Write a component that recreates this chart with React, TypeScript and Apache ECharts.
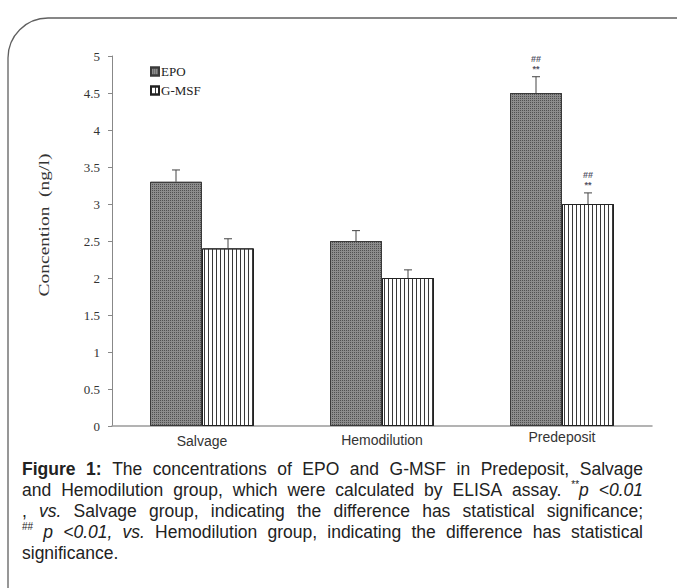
import React, { useEffect, useRef } from 'react';
import * as echarts from 'echarts';

// ---------- data ----------
const categories = ['Salvage', 'Hemodilution', 'Predeposit'];
const epoValues = [3.3, 2.5, 4.5];
const epoErrors = [0.16, 0.14, 0.22];
const gmsfValues = [2.4, 2.0, 3.0];
const gmsfErrors = [0.13, 0.11, 0.15];
const epoMarks = [[], [], ['##', '**']];
const gmsfMarks = [[], [], ['##', '**']];
const yMin = 0;
const yMax = 5;
const yStep = 0.5;
const yAxisTitle = 'Concention  (ng/l)';

type Seg = [string, 'n' | 'b' | 'i' | 's'];
const captionLines: Seg[][] = [
  [['Figure 1:', 'b'], [' The concentrations of EPO and G-MSF in Predeposit, Salvage', 'n']],
  [['and Hemodilution group, which were calculated by ELISA assay. ', 'n'], ['**', 's'], ['p <0.01', 'i']],
  [[', ', 'n'], ['vs.', 'i'], [' Salvage group, indicating the difference has statistical significance;', 'n']],
  [['##', 's'], [' ', 'n'], ['p <0.01, vs.', 'i'], [' Hemodilution group, indicating the difference has statistical', 'n']],
  [['significance.', 'n']],
];

// ---------- style ----------
const BAR_W = 52;
const LABEL_PAD = [4, 3, 0];
const FS = 17.5;
const SUP_FS = 10;
const LINE_H = 21;
const CAP_LEFT = 22;
const CAP_RIGHT = 643;
const CAP_TOP = 469;
const SANS = '"Liberation Sans", Arial, sans-serif';
const SERIF = '"Liberation Serif", "Times New Roman", serif';

function fontOf(s: string) {
  if (s === 'b') return `bold ${FS}px ${SANS}`;
  if (s === 'i') return `italic ${FS}px ${SANS}`;
  if (s === 's') return `${SUP_FS}px ${SANS}`;
  return `${FS}px ${SANS}`;
}

function toWords(line: Seg[]) {
  const words: Seg[][] = [];
  let cur: Seg[] = [];
  for (const [t, s] of line) {
    const parts = t.split(' ');
    parts.forEach((p, k) => {
      if (k > 0) {
        if (cur.length) words.push(cur);
        cur = [];
      }
      if (p) cur.push([p, s]);
    });
  }
  if (cur.length) words.push(cur);
  return words;
}

function buildCaption() {
  const ctx = document.createElement('canvas').getContext('2d') as CanvasRenderingContext2D;
  const measure = (t: string, s: string) => {
    ctx.font = fontOf(s);
    return ctx.measureText(t).width;
  };
  const elems: any[] = [];
  captionLines.forEach((line, li) => {
    const words = toWords(line);
    const widths = words.map((w) => w.reduce((a, [t, s]) => a + measure(t, s), 0));
    const total = widths.reduce((a, b) => a + b, 0);
    const last = li === captionLines.length - 1;
    let gap = last || words.length < 2 ? measure(' ', 'n') : (CAP_RIGHT - CAP_LEFT - total) / (words.length - 1);
    if (gap < 2) gap = 2;
    let x = CAP_LEFT;
    const y = CAP_TOP + li * LINE_H;
    words.forEach((w, wi) => {
      let px = x;
      w.forEach(([t, s]) => {
        elems.push({
          type: 'text',
          x: px,
          y: s === 's' ? y - 6 : y,
          silent: true,
          style: { text: t, font: fontOf(s), fill: '#222', verticalAlign: 'middle', textVerticalAlign: 'middle' },
        });
        px += measure(t, s);
      });
      x += widths[wi] + gap;
    });
  });
  return elems;
}

function errorSeries(name: string, values: number[], errors: number[], marks: string[][], side: number) {
  return {
    type: 'custom',
    name,
    z: 5,
    silent: true,
    data: values.map((v, i) => [i, v, errors[i]]),
    renderItem: (params: any, api: any) => {
      const i = api.value(0);
      const v = api.value(1);
      const e = api.value(2);
      const p0 = api.coord([i, v]);
      const p1 = api.coord([i, v + e]);
      const x = p0[0] + (side * BAR_W) / 2;
      const children: any[] = [
        { type: 'line', shape: { x1: x, y1: p0[1], x2: x, y2: p1[1] }, style: { stroke: '#444', lineWidth: 1 } },
        { type: 'line', shape: { x1: x - 4, y1: p1[1], x2: x + 4, y2: p1[1] }, style: { stroke: '#444', lineWidth: 1 } },
      ];
      const m = marks[i] || [];
      m.forEach((t, k) => {
        children.push({
          type: 'text',
          x,
          y: p1[1] - 8 - (m.length - 1 - k) * 10,
          style: { text: t, font: `bold 9px ${SANS}`, fill: '#556', align: 'center', verticalAlign: 'middle', textAlign: 'center', textVerticalAlign: 'middle' },
        });
      });
      return { type: 'group', children };
    },
  };
}

export default function App() {
  const ref = useRef<HTMLDivElement>(null);
  useEffect(() => {
    if (!ref.current) return;
    const chart = echarts.init(ref.current, undefined, { renderer: 'svg' });
    const option: any = {
      animation: false,
      backgroundColor: '#fff',
      grid: { left: 112, right: 25, top: 56, bottom: 162, containLabel: false, outerBoundsMode: 'none' },
      legend: {
        data: ['EPO', 'G-MSF'],
        orient: 'vertical',
        left: 145,
        top: 60,
        itemWidth: 8,
        itemHeight: 8,
        itemGap: 6,
        icon: 'rect',
        selectedMode: false,
        textStyle: { fontFamily: SERIF, fontSize: 13, color: '#222', padding: [0, 0, 0, -3] },
      },
      xAxis: {
        type: 'category',
        data: categories.map((c, i) => ({ value: c, textStyle: { padding: [LABEL_PAD[i], 0, 0, 0] } })),
        axisLine: { lineStyle: { color: '#9a9a9a', width: 1.5 } },
        axisTick: { show: false },
        axisLabel: { fontFamily: SANS, fontSize: 14, color: '#333', margin: 4 },
      },
      yAxis: {
        type: 'value',
        min: yMin,
        max: yMax,
        interval: yStep,
        axisLine: { show: true, lineStyle: { color: '#888', width: 1 } },
        axisTick: { show: true, length: 4, lineStyle: { color: '#888' } },
        splitLine: { show: false },
        axisLabel: { fontFamily: SERIF, fontSize: 13, color: '#333', margin: 12 },
      },
      graphic: [
        {
          type: 'rect',
          silent: true,
          shape: { x: 8, y: 18, width: 720, height: 620, r: 40 },
          style: { fill: 'none', stroke: '#606060', lineWidth: 1.3 },
        },
        {
          type: 'text',
          x: 44,
          y: 225,
          rotation: Math.PI / 2,
          scaleX: 1.3,
          silent: true,
          style: { text: yAxisTitle, font: `15px ${SERIF}`, fill: '#333', align: 'center', verticalAlign: 'middle', textAlign: 'center', textVerticalAlign: 'middle' },
        },
        ...buildCaption(),
      ],
      series: [
        {
          type: 'bar',
          name: 'EPO',
          data: epoValues,
          barWidth: BAR_W,
          barGap: '0%',
          itemStyle: {
            color: '#8c8c8c',
            borderColor: '#3a3a3a',
            borderWidth: 1,
            decal: { symbol: 'rect', symbolSize: 1, dashArrayX: [1, 1], dashArrayY: [1, 1], color: '#505050' },
          },
        },
        {
          type: 'bar',
          name: 'G-MSF',
          data: gmsfValues,
          barWidth: BAR_W,
          barGap: '0%',
          itemStyle: {
            color: '#ffffff',
            borderColor: '#222',
            borderWidth: 1,
            decal: { symbol: 'rect', symbolSize: 1, dashArrayX: [1, 2.5], dashArrayY: [1, 0], color: '#3a3a3a' },
          },
        },
        errorSeries('EPO-err', epoValues, epoErrors, epoMarks, -1),
        errorSeries('G-MSF-err', gmsfValues, gmsfErrors, gmsfMarks, 1),
      ],
    };
    chart.setOption(option);
    return () => chart.dispose();
  }, []);
  return <div ref={ref} style={{ position: 'fixed', left: 0, top: 0, width: 677, height: 588 }} />;
}
